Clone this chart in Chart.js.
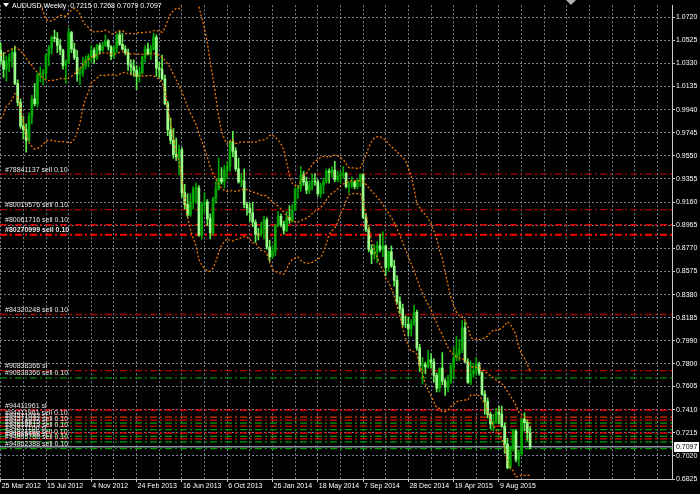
<!DOCTYPE html>
<html><head><meta charset="utf-8">
<script src="https://cdn.jsdelivr.net/npm/chart.js@4/dist/chart.umd.min.js"></script>
<style>html,body{margin:0;padding:0;background:#000;overflow:hidden}canvas{display:block}</style>
</head><body><canvas id="c" width="700" height="494"></canvas>
<script>
// ---------- data ----------
const symbolTitle = 'AUDUSD,Weekly';
const lastQuote = ['0.7215', '0.7268', '0.7079', '0.7097'];
const dateLabels = ['25 Mar 2012','15 Jul 2012','4 Nov 2012','24 Feb 2013','16 Jun 2013','6 Oct 2013','26 Jan 2014','18 May 2014','7 Sep 2014','28 Dec 2014','19 Apr 2015','9 Aug 2015'];
const dateLabelWeeks = [0,16,32,48,64,80,96,112,128,144,160,176];
const priceTicks = [1.0720,1.0525,1.0330,1.0135,0.9940,0.9745,0.9550,0.9355,0.9160,0.8965,0.8770,0.8575,0.8380,0.8185,0.7990,0.7795,0.7605,0.7410,0.7215,0.7020,0.6825];
const priceTickLabels = ['1.0720','1.0525','1.0330','1.0135','0.9940','0.9745','0.9550','0.9355','0.9160','0.8965','0.8770','0.8575','0.8380','0.8185','0.7990','0.7800','0.7605','0.7410','0.7215','0.7020','0.6825'];

// weekly candles, week 0 = 25 Mar 2012 ... week 187 = 25 Oct 2015
const openP = [1.0440,1.0350,1.0280,1.0345,1.0380,1.0420,1.0160,1.0000,0.9800,0.9770,0.9680,0.9880,1.0030,0.9990,1.0230,1.0240,1.0250,1.0400,1.0460,1.0550,
1.0540,1.0480,1.0440,1.0310,1.0340,1.0590,1.0450,1.0380,1.0240,1.0250,1.0310,1.0360,1.0390,1.0440,1.0380,1.0480,1.0440,1.0480,1.0520,1.0470,
1.0390,1.0460,1.0570,1.0490,1.0450,1.0420,1.0320,1.0300,1.0270,1.0220,1.0250,1.0380,1.0450,1.0410,1.0450,1.0550,1.0290,1.0280,1.0200,0.9990,
0.9770,0.9680,0.9560,0.9540,0.9600,0.9240,0.9140,0.9050,0.9160,0.9270,0.9280,0.8880,0.9140,0.9160,0.9020,0.8900,0.9190,0.9270,0.9360,0.9330,
0.9430,0.9460,0.9670,0.9590,0.9440,0.9330,0.9340,0.9140,0.9110,0.9070,0.8990,0.8890,0.8890,0.8930,0.9010,0.8780,0.8700,0.8750,0.8960,0.9040,
0.8970,0.8920,0.9030,0.9010,0.9090,0.9270,0.9280,0.9390,0.9330,0.9260,0.9300,0.9340,0.9330,0.9230,0.9300,0.9330,0.9420,0.9410,0.9430,0.9350,
0.9380,0.9390,0.9400,0.9290,0.9300,0.9330,0.9290,0.9340,0.9390,0.9030,0.8930,0.8760,0.8720,0.8740,0.8790,0.8760,0.8790,0.8610,0.8740,0.8620,
0.8500,0.8320,0.8260,0.8130,0.8130,0.8090,0.8140,0.8230,0.7930,0.7780,0.7790,0.7770,0.7830,0.7810,0.7700,0.7590,0.7760,0.7650,0.7600,0.7640,
0.7770,0.7850,0.7880,0.7920,0.8100,0.7810,0.7640,0.7710,0.7740,0.7790,0.7720,0.7540,0.7480,0.7370,0.7290,0.7310,0.7390,0.7370,0.7270,0.7120,
0.6920,0.7100,0.7230,0.6990,0.7040,0.7330,0.7300,0.7215];
const highP = [1.0500,1.0420,1.0390,1.0410,1.0450,1.0475,1.0190,1.0030,0.9880,0.9820,0.9910,1.0060,1.0160,1.0250,1.0300,1.0280,1.0410,1.0480,1.0560,1.0610,
1.0590,1.0530,1.0450,1.0360,1.0625,1.0600,1.0500,1.0440,1.0290,1.0380,1.0390,1.0410,1.0480,1.0460,1.0490,1.0500,1.0510,1.0570,1.0530,1.0480,
1.0480,1.0580,1.0600,1.0580,1.0480,1.0450,1.0360,1.0360,1.0310,1.0300,1.0390,1.0480,1.0500,1.0480,1.0585,1.0570,1.0340,1.0400,1.0230,1.0010,
0.9870,0.9780,0.9700,0.9640,0.9620,0.9310,0.9230,0.9230,0.9290,0.9320,0.9300,0.9160,0.9240,0.9180,0.9060,0.9200,0.9330,0.9530,0.9450,0.9470,
0.9500,0.9680,0.9757,0.9620,0.9530,0.9400,0.9440,0.9160,0.9150,0.9160,0.9010,0.8940,0.8990,0.9040,0.9030,0.8840,0.8800,0.8970,0.9080,0.9060,
0.9000,0.9080,0.9130,0.9140,0.9280,0.9300,0.9460,0.9420,0.9370,0.9340,0.9400,0.9400,0.9350,0.9320,0.9360,0.9440,0.9440,0.9460,0.9504,0.9420,
0.9420,0.9460,0.9410,0.9330,0.9370,0.9340,0.9350,0.9400,0.9400,0.9060,0.8950,0.8800,0.8800,0.8830,0.8890,0.8910,0.8800,0.8750,0.8790,0.8670,
0.8540,0.8360,0.8300,0.8200,0.8190,0.8170,0.8290,0.8250,0.7960,0.7850,0.7810,0.7910,0.7880,0.7840,0.7720,0.7760,0.7890,0.7670,0.7700,0.7800,
0.7940,0.8030,0.8000,0.8160,0.8150,0.7840,0.7820,0.7800,0.7850,0.7810,0.7730,0.7570,0.7510,0.7390,0.7370,0.7420,0.7440,0.7440,0.7300,0.7170,
0.7100,0.7240,0.7240,0.7070,0.7330,0.7382,0.7320,0.7268];
const lowP = [1.0320,1.0210,1.0180,1.0260,1.0300,1.0150,0.9970,0.9780,0.9690,0.9580,0.9670,0.9820,0.9970,0.9960,1.0170,1.0150,1.0200,1.0310,1.0410,1.0510,
1.0420,1.0400,1.0280,1.0160,1.0330,1.0420,1.0360,1.0180,1.0150,1.0220,1.0280,1.0300,1.0340,1.0330,1.0360,1.0410,1.0430,1.0470,1.0440,1.0360,
1.0370,1.0420,1.0480,1.0440,1.0400,1.0270,1.0240,1.0220,1.0110,1.0170,1.0240,1.0340,1.0400,1.0360,1.0440,1.0220,1.0210,1.0190,0.9980,0.9720,
0.9650,0.9530,0.9510,0.9390,0.9200,0.9100,0.9040,0.9040,0.9100,0.9150,0.8870,0.8848,0.9070,0.8960,0.8850,0.8880,0.9150,0.9260,0.9310,0.9280,
0.9360,0.9420,0.9540,0.9420,0.9320,0.9290,0.9110,0.9050,0.9000,0.8950,0.8820,0.8840,0.8870,0.8850,0.8760,0.8660,0.8690,0.8710,0.8950,0.8950,
0.8890,0.8910,0.8980,0.8990,0.9090,0.9190,0.9250,0.9300,0.9230,0.9230,0.9260,0.9300,0.9210,0.9200,0.9230,0.9320,0.9320,0.9370,0.9330,0.9330,
0.9320,0.9360,0.9280,0.9240,0.9280,0.9270,0.9270,0.9290,0.9020,0.8910,0.8740,0.8640,0.8680,0.8650,0.8740,0.8700,0.8540,0.8580,0.8610,0.8450,
0.8300,0.8220,0.8110,0.8100,0.8030,0.8030,0.8120,0.7910,0.7730,0.7625,0.7710,0.7760,0.7760,0.7640,0.7560,0.7560,0.7620,0.7530,0.7560,0.7630,
0.7670,0.7820,0.7820,0.7890,0.7810,0.7630,0.7620,0.7680,0.7700,0.7700,0.7530,0.7370,0.7340,0.7250,0.7230,0.7300,0.7290,0.7260,0.7040,0.6910,
0.6907,0.7060,0.6970,0.6935,0.7020,0.7230,0.7150,0.7079];
const closeP = [1.0350,1.0280,1.0345,1.0380,1.0420,1.0160,1.0000,0.9800,0.9770,0.9680,0.9880,1.0030,0.9990,1.0230,1.0240,1.0250,1.0400,1.0460,1.0550,1.0540,
1.0480,1.0440,1.0310,1.0340,1.0590,1.0450,1.0380,1.0240,1.0250,1.0310,1.0360,1.0390,1.0440,1.0380,1.0480,1.0440,1.0480,1.0520,1.0470,1.0390,
1.0460,1.0570,1.0490,1.0450,1.0420,1.0320,1.0300,1.0270,1.0220,1.0250,1.0380,1.0450,1.0410,1.0450,1.0550,1.0290,1.0280,1.0200,0.9990,0.9770,
0.9680,0.9560,0.9540,0.9600,0.9240,0.9140,0.9050,0.9160,0.9270,0.9280,0.8880,0.9140,0.9160,0.9020,0.8900,0.9190,0.9270,0.9360,0.9330,0.9430,
0.9460,0.9670,0.9590,0.9440,0.9330,0.9340,0.9140,0.9110,0.9070,0.8990,0.8890,0.8890,0.8930,0.9010,0.8780,0.8700,0.8750,0.8960,0.9040,0.8970,
0.8920,0.9030,0.9010,0.9090,0.9270,0.9280,0.9390,0.9330,0.9260,0.9300,0.9340,0.9330,0.9230,0.9300,0.9330,0.9420,0.9410,0.9430,0.9350,0.9380,
0.9390,0.9400,0.9290,0.9300,0.9330,0.9290,0.9340,0.9390,0.9030,0.8930,0.8760,0.8720,0.8740,0.8790,0.8760,0.8790,0.8610,0.8740,0.8620,0.8500,
0.8320,0.8260,0.8130,0.8130,0.8090,0.8140,0.8230,0.7930,0.7780,0.7790,0.7770,0.7830,0.7810,0.7700,0.7590,0.7760,0.7650,0.7600,0.7640,0.7770,
0.7850,0.7880,0.7920,0.8100,0.7810,0.7640,0.7710,0.7740,0.7790,0.7720,0.7540,0.7480,0.7370,0.7290,0.7310,0.7390,0.7370,0.7270,0.7120,0.6920,
0.7100,0.7230,0.6990,0.7040,0.7330,0.7300,0.7215,0.7097];
// closes of the 19 weeks before the first visible bar (Bollinger warm-up only)
const priorCloses = [1.0050,0.9920,1.0200,1.0150,0.9950,1.0120,1.0220,1.0330,1.0340,1.0500,1.0620,1.0730,1.0720,1.0730,1.0700,1.0740,1.0560,1.0520,1.0480];

// trade level lines
const orderPrices = [0.9396,0.9096,0.8969,0.8885,0.8212,0.7738,0.7678,0.7405,0.7346,0.7321,0.7296,0.7271,0.7242,0.7213,0.7184,0.7163,0.7138,0.7081];
const orderLabels = ['#78841137 sell 0.10','#80019576 sell 0.10','#80061716 sell 0.10','#80270999 sell 0.10','#84320248 sell 0.10','#90838366 sl','#90838366 sell 0.10',
'#94411961 sl','#94411961 sell 0.10','#94571032 sl','#94571032 sell 0.10','#94618815 sl','#94618815 sell 0.10','#94871160 sl','#94871160 sell 0.10','#94895768 sl','#94895768 sell 0.10','#94862388 sell 0.10'];
const orderColors = ['#a00000','#a00000','#e00000','#ff0000','#a00000','#b80000','#009000',
'#ff0000','#e03000','#e00000','#00a000','#e00000','#00a000','#e00000','#00a000','#e00000','#00a000','#00a000'];
const bidPrice = 0.7097;
const bidLabel = '0.7097';

// ---------- chart ----------
const X_MIN = -0.25, X_MAX = 237.12, Y_MIN = 0.6825, Y_MAX = 1.0820;
const FONT = "'Liberation Sans',Arial,sans-serif";
const idx = closeP.map((_, i) => i);
const isBull = idx.map(i => closeP[i] > openP[i]);
const BULL = '#00a800', BEAR = '#9cff8c';

const series = priorCloses.concat(closeP);
const P = priorCloses.length;
const bbMid = [], bbUp = [], bbLo = [];
idx.forEach(i => {
  const w = series.slice(i + P - 19, i + P + 1);
  const m = w.reduce((a, b) => a + b, 0) / w.length;
  const sd = Math.sqrt(w.reduce((a, b) => a + (b - m) * (b - m), 0) / w.length);
  bbMid.push({x: i, y: m}); bbUp.push({x: i, y: m + 2 * sd}); bbLo.push({x: i, y: m - 2 * sd});
});

const bandStyle = {type: 'line', pointRadius: 0, borderWidth: 1.3, borderColor: '#f07800', borderDash: [2, 2], fill: false, order: 0};
const datasets = [
  Object.assign({data: bbUp}, bandStyle),
  Object.assign({data: bbMid}, bandStyle),
  Object.assign({data: bbLo}, bandStyle),
  {type: 'bar', data: idx.map(i => ({x: i, y: [openP[i], closeP[i]]})), backgroundColor: idx.map(i => isBull[i] ? BULL : BEAR), barThickness: 2, grouped: false, order: 1},
  {type: 'bar', data: idx.map(i => ({x: i, y: [lowP[i], highP[i]]})), backgroundColor: idx.map(i => isBull[i] ? BULL : '#5fef4f'), barThickness: 1, grouped: false, order: 2},
  {type: 'line', data: [{x: X_MIN, y: bidPrice}, {x: X_MAX, y: bidPrice}], borderColor: '#8a96a4', borderWidth: 1.5, pointRadius: 0, order: 4}
];
orderPrices.forEach((p, k) => datasets.push({type: 'line', data: [{x: X_MIN, y: p}, {x: X_MAX, y: p}], borderColor: orderColors[k], borderWidth: (k === 3 ? 2 : 1.3), borderDash: [7, 3, 2, 3], pointRadius: 0, order: 5}));

const overlay = {
  id: 'overlay',
  beforeDraw(chart) {
    const ctx = chart.ctx;
    ctx.save(); ctx.fillStyle = '#000'; ctx.fillRect(0, 0, chart.width, chart.height); ctx.restore();
  },
  afterDatasetsDraw(chart) {
    const ctx = chart.ctx, ys = chart.scales.y;
    ctx.save();
    ctx.fillStyle = '#e8e8e8';
    ctx.textBaseline = 'bottom';
    orderPrices.forEach((p, k) => {
      ctx.font = (k === 3 ? 'bold ' : '') + '7px ' + FONT;
      ctx.fillText(orderLabels[k], 5, ys.getPixelForValue(p) - 1);
    });
    ctx.restore();
  },
  afterDraw(chart) {
    const ctx = chart.ctx, ys = chart.scales.y, area = chart.chartArea;
    ctx.save();
    // header
    ctx.fillStyle = '#ffffff';
    ctx.beginPath(); ctx.moveTo(3, 3); ctx.lineTo(9, 3); ctx.lineTo(6, 7); ctx.closePath(); ctx.fill();
    ctx.font = '7px ' + FONT; ctx.textBaseline = 'middle';
    ctx.fillText(symbolTitle + '  ' + lastQuote.join(' '), 12, 6);
    // chart shift marker
    ctx.fillStyle = '#b0b0b0';
    ctx.beginPath(); ctx.moveTo(566, 0); ctx.lineTo(576, 0); ctx.lineTo(571, 5); ctx.closePath(); ctx.fill();
    // bid label
    const by = Math.round(ys.getPixelForValue(bidPrice));
    ctx.fillStyle = '#ffffff'; ctx.fillRect(area.right + 2, by - 5, 25, 10);
    ctx.fillStyle = '#000000'; ctx.font = '7px ' + FONT; ctx.textBaseline = 'middle';
    ctx.fillText(bidLabel, area.right + 4, by);
    ctx.restore();
  }
};

new Chart(document.getElementById('c'), {
  type: 'bar',
  data: {datasets},
  options: {
    responsive: false, animation: false, devicePixelRatio: 1,
    layout: {padding: 0},
    plugins: {legend: {display: false}, tooltip: {enabled: false}},
    scales: {
      x: {
        type: 'linear', position: 'bottom', min: X_MIN, max: X_MAX, offset: false,
        afterFit(s) { s.height = 15; },
        afterBuildTicks(s) { const t = []; for (let v = 0; v <= 232; v += 8) t.push({value: v}); s.ticks = t; },
        grid: {color: '#76828f', lineWidth: 1, drawTicks: true, tickLength: 3, offset: false,
               tickColor: (c) => (c.tick && dateLabelWeeks.indexOf(c.tick.value) >= 0) ? '#c8c8c8' : 'rgba(0,0,0,0)'},
        border: {display: true, color: '#c8c8c8', width: 1, dash: [2, 2]},
        ticks: {autoSkip: false, maxRotation: 0, align: 'start', padding: 0, labelOffset: 1, color: '#ffffff', font: {size: 7, family: FONT},
                callback: (v) => { const k = dateLabelWeeks.indexOf(v); return k >= 0 ? dateLabels[k] : ''; }}
      },
      y: {
        type: 'linear', position: 'right', min: Y_MIN, max: Y_MAX,
        afterFit(s) { s.width = 28; },
        afterBuildTicks(s) { s.ticks = priceTicks.map(v => ({value: v})); },
        grid: {color: '#76828f', lineWidth: 1, drawTicks: true, tickLength: 3, tickColor: '#c8c8c8'},
        border: {display: true, color: '#c8c8c8', width: 1, dash: [2, 2]},
        ticks: {autoSkip: false, padding: 1, color: '#ffffff', font: {size: 7, family: FONT},
                callback: (v, k) => priceTickLabels[k]}
      }
    }
  },
  plugins: [overlay]
});
</script>
</body></html>
